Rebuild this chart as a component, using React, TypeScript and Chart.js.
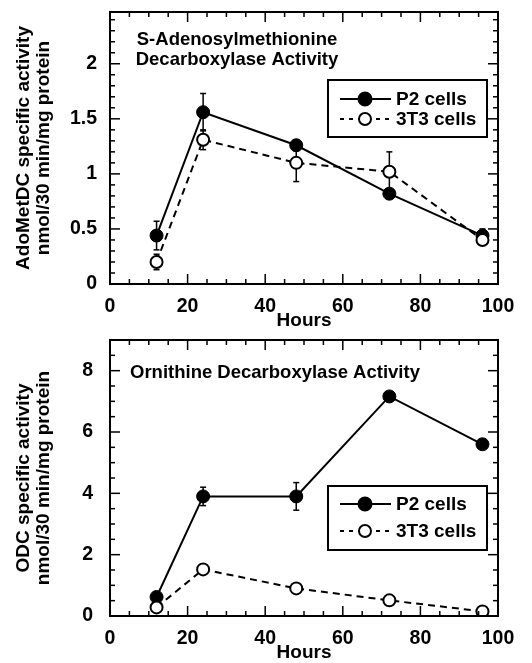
import React, { useEffect, useRef } from "react";
import { Chart, registerables } from "chart.js";
Chart.register(...registerables);

// ---- data ----
const hours = [12, 24, 48, 72, 96];
const xTicks = [0, 20, 40, 60, 80, 100];
const seriesLabels = ["P2 cells", "3T3 cells"];

const adoP2 = [0.44, 1.56, 1.26, 0.82, 0.44];
const adoP2Err = [0.13, 0.17, 0.05, 0.03, 0.06];
const ado3T3 = [0.2, 1.31, 1.1, 1.02, 0.4];
const ado3T3Err = [0.07, 0.09, 0.17, 0.18, 0.03];
const adoYTicks = [0, 0.5, 1, 1.5, 2];

const odcP2 = [0.62, 3.9, 3.9, 7.16, 5.6];
const odcP2Err = [0, 0.3, 0.45, 0, 0];
const odc3T3 = [0.28, 1.52, 0.9, 0.51, 0.15];
const odc3T3Err = [0, 0, 0, 0, 0];
const odcYTicks = [0, 2, 4, 6, 8];

const adoTitle = ["S-Adenosylmethionine", "Decarboxylase Activity"];
const odcTitle = ["Ornithine Decarboxylase Activity"];
const adoYTitle = ["AdoMetDC specific activity", "nmol/30 min/mg protein"];
const odcYTitle = ["ODC specific activity", "nmol/30 min/mg protein"];
const xTitle = "Hours";

const FAMILY = "'Liberation Sans', Arial, Helvetica, sans-serif";

type PanelOpts = {
  p2: number[];
  p2Err: number[];
  t3: number[];
  t3Err: number[];
  yMax: number;
  yTicks: number[];
  yMinor: number;
  yMajor: number;
  yTitle: string[];
  yLabelPad: number;
  title: string[];
  titleMode: "center" | "left";
  titleX: number;
  titleBaselines: number[];
  chartTop: number;
  legendTop: number;
  legendHeight: number;
  legendRows: number[];
};

function line(ctx: CanvasRenderingContext2D, x1: number, y1: number, x2: number, y2: number) {
  ctx.beginPath();
  ctx.moveTo(x1, y1);
  ctx.lineTo(x2, y2);
  ctx.stroke();
}

function makeConfig(o: PanelOpts): any {
  const errs = [o.p2Err, o.t3Err];
  const vals = [o.p2, o.t3];
  const decor = {
    id: "decor",
    beforeDatasetsDraw(chart: any) {
      const { ctx, scales } = chart;
      const x = scales.x, y = scales.y;
      ctx.save();
      ctx.strokeStyle = "#000";
      ctx.lineWidth = 1.5;
      ctx.setLineDash([]);
      for (let d = 0; d < 2; d++) {
        for (let i = 0; i < hours.length; i++) {
          const e = errs[d][i];
          if (!e) continue;
          const px = x.getPixelForValue(hours[i]);
          const yt = y.getPixelForValue(vals[d][i] + e);
          const yb = y.getPixelForValue(vals[d][i] - e);
          line(ctx, px, yt, px, yb);
          line(ctx, px - 3, yt, px + 3, yt);
          line(ctx, px - 3, yb, px + 3, yb);
        }
      }
      ctx.restore();
    },
    afterDraw(chart: any) {
      const { ctx, chartArea: a, scales } = chart;
      const x = scales.x, y = scales.y;
      ctx.save();
      ctx.strokeStyle = "#000";
      ctx.fillStyle = "#000";
      ctx.setLineDash([]);
      // frame
      ctx.lineWidth = 2;
      ctx.strokeRect(a.left, a.top, a.right - a.left, a.bottom - a.top);
      // ticks
      ctx.lineWidth = 1.5;
      for (let k = 0; k * 5 <= 100; k++) {
        const v = k * 5;
        const px = x.getPixelForValue(v);
        const L = v % 20 === 0 ? 10 : 5;
        line(ctx, px, a.bottom, px, a.bottom - L);
        line(ctx, px, a.top, px, a.top + L);
      }
      for (let k = 0; k * o.yMinor <= o.yMax + 1e-9; k++) {
        const v = k * o.yMinor;
        const py = y.getPixelForValue(v);
        const r = v / o.yMajor;
        const L = Math.abs(r - Math.round(r)) < 1e-6 ? 10 : 5;
        line(ctx, a.left, py, a.left + L, py);
        line(ctx, a.right, py, a.right - L, py);
      }
      // annotation title
      ctx.font = `bold 18.5px ${FAMILY}`;
      ctx.textBaseline = "alphabetic";
      ctx.textAlign = o.titleMode;
      o.title.forEach((t, i) => ctx.fillText(t, o.titleX, o.titleBaselines[i]));
      // legend
      const bx = 328, bw = 159;
      ctx.lineWidth = 2;
      ctx.strokeRect(bx, o.legendTop, bw, o.legendHeight);
      ctx.textAlign = "left";
      ctx.textBaseline = "middle";
      ctx.font = `bold 19px ${FAMILY}`;
      o.legendRows.forEach((ry, i) => {
        ctx.lineWidth = 2;
        ctx.setLineDash(i === 0 ? [] : [4, 5]);
        line(ctx, bx + 12, ry, bx + 63, ry);
        ctx.setLineDash([]);
        ctx.beginPath();
        ctx.arc(bx + 37, ry, i === 0 ? 6.5 : 6, 0, Math.PI * 2);
        ctx.fillStyle = i === 0 ? "#000" : "#fff";
        ctx.fill();
        ctx.stroke();
        ctx.fillStyle = "#000";
        ctx.fillText(seriesLabels[i], bx + 68, ry + 1);
      });
      ctx.restore();
    },
  };

  return {
    type: "line",
    data: {
      datasets: [
        {
          label: seriesLabels[0],
          data: hours.map((h, i) => ({ x: h, y: o.p2[i] })),
          borderColor: "#000",
          backgroundColor: "#000",
          borderWidth: 2,
          pointRadius: 6.5,
          pointBackgroundColor: "#000",
          pointBorderColor: "#000",
          pointBorderWidth: 1,
          order: 2,
          tension: 0,
        },
        {
          label: seriesLabels[1],
          data: hours.map((h, i) => ({ x: h, y: o.t3[i] })),
          borderColor: "#000",
          backgroundColor: "#fff",
          borderWidth: 2,
          borderDash: [7, 5],
          pointRadius: 6,
          pointBackgroundColor: "#fff",
          pointBorderColor: "#000",
          pointBorderWidth: 2,
          order: 1,
          tension: 0,
        },
      ],
    },
    options: {
      responsive: false,
      animation: false,
      devicePixelRatio: 1,
      layout: { padding: { left: 0, right: 34, top: o.chartTop, bottom: 0 } },
      plugins: { legend: { display: false }, tooltip: { enabled: false } },
      scales: {
        x: {
          type: "linear",
          position: "bottom",
          min: 0,
          max: 100,
          afterBuildTicks: (s: any) => {
            s.ticks = xTicks.map((v) => ({ value: v }));
          },
          afterFit: (s: any) => {
            s.height = 47;
            s.paddingLeft = 0;
            s.paddingRight = 0;
            s.paddingTop = 0;
            s.paddingBottom = 0;
          },
          grid: { display: false, drawTicks: false },
          border: { display: false },
          ticks: {
            padding: 11,
            color: "#000",
            maxRotation: 0,
            autoSkip: false,
            font: { family: FAMILY, size: 19.5, weight: "bold" },
            callback: (v: any) => String(v),
          },
          title: {
            display: true,
            text: xTitle,
            color: "#000",
            font: { family: FAMILY, size: 19, weight: "bold", lineHeight: 1.1 },
            padding: { top: 0, bottom: 0 },
          },
        },
        y: {
          type: "linear",
          min: 0,
          max: o.yMax,
          afterBuildTicks: (s: any) => {
            s.ticks = o.yTicks.map((v) => ({ value: v }));
          },
          afterFit: (s: any) => {
            s.width = 110;
            s.paddingLeft = 0;
            s.paddingRight = 0;
            s.paddingTop = 0;
            s.paddingBottom = 0;
          },
          grid: { display: false, drawTicks: false },
          border: { display: false },
          ticks: {
            padding: o.yLabelPad,
            color: "#000",
            autoSkip: false,
            font: { family: FAMILY, size: 19.5, weight: "bold" },
            callback: (v: any) => String(v),
          },
          title: {
            display: true,
            text: o.yTitle,
            color: "#000",
            font: { family: FAMILY, size: 19, weight: "bold", lineHeight: 1.05 },
            padding: { top: 14, bottom: 0 },
          },
        },
      },
    },
    plugins: [decor],
  };
}

function Panel({ cfg, height }: { cfg: any; height: number }) {
  const ref = useRef<HTMLCanvasElement>(null);
  useEffect(() => {
    const chart = new Chart(ref.current as HTMLCanvasElement, cfg);
    return () => chart.destroy();
  }, []);
  return (
    <canvas
      ref={ref}
      width={532}
      height={height}
      style={{ display: "block", width: 532, height }}
    />
  );
}

const topCfg = () =>
  makeConfig({
    p2: adoP2,
    p2Err: adoP2Err,
    t3: ado3T3,
    t3Err: ado3T3Err,
    yMax: 2.47,
    yTicks: adoYTicks,
    yMinor: 0.1,
    yMajor: 0.5,
    yTitle: adoYTitle,
    yLabelPad: 13,
    title: adoTitle,
    titleMode: "center",
    titleX: 237,
    titleBaselines: [45, 65],
    chartTop: 12,
    legendTop: 80,
    legendHeight: 57,
    legendRows: [99, 119],
  });

const bottomCfg = () =>
  makeConfig({
    p2: odcP2,
    p2Err: odcP2Err,
    t3: odc3T3,
    t3Err: odc3T3Err,
    yMax: 9,
    yTicks: odcYTicks,
    yMinor: 0.5,
    yMajor: 2,
    yTitle: odcYTitle,
    yLabelPad: 17,
    title: odcTitle,
    titleMode: "left",
    titleX: 130,
    titleBaselines: [47],
    chartTop: 9,
    legendTop: 155,
    legendHeight: 64,
    legendRows: [173, 200],
  });

export default function App() {
  return (
    <div
      style={{
        position: "fixed",
        left: 0,
        top: 0,
        width: 532,
        height: 663,
        background: "#fff",
      }}
    >
      <Panel cfg={topCfg()} height={331} />
      <Panel cfg={bottomCfg()} height={332} />
    </div>
  );
}
